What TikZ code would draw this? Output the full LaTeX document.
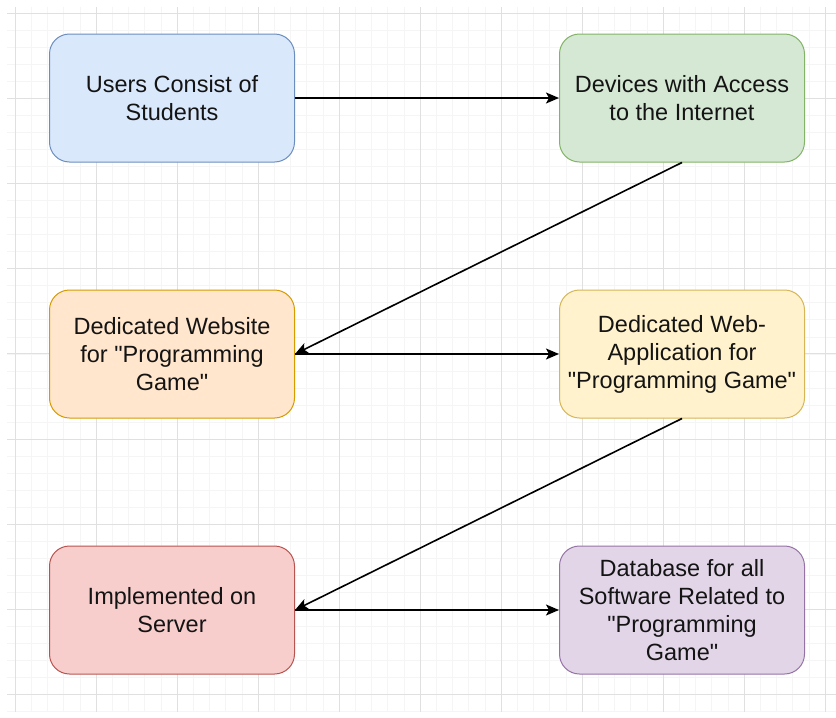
\documentclass[tikz,border=0pt]{standalone}
\usepackage{fontspec}
\newfontfamily\arialfont{Liberation Sans}
\usetikzlibrary{arrows.meta}
\definecolor{bfill}{HTML}{DAE8FC}\definecolor{bdraw}{HTML}{6C8EBF}
\definecolor{gfill}{HTML}{D5E8D4}\definecolor{gdraw}{HTML}{82B366}
\definecolor{ofill}{HTML}{FFE6CC}\definecolor{odraw}{HTML}{D79B00}
\definecolor{yfill}{HTML}{FFF2CC}\definecolor{ydraw}{HTML}{D6B656}
\definecolor{rfill}{HTML}{F8CECC}\definecolor{rdraw}{HTML}{B85450}
\definecolor{pfill}{HTML}{E1D5E7}\definecolor{pdraw}{HTML}{9673A6}
\definecolor{txt}{HTML}{141414}
\begin{document}
\begin{tikzpicture}[x=1pt,y=-1pt,
  box/.style={draw, line width=1pt, rounded corners=20pt, minimum width=245pt, minimum height=128pt,
    align=center, text=txt, font=\arialfont\fontsize{23.5}{28}\selectfont, inner sep=2pt},
  conn/.style={line width=1.6pt, -{Stealth[length=13pt,width=11pt,inset=3pt]}},
  minorgrid/.style={draw=black!4, line width=0.5pt},
  majorgrid/.style={draw=black!12, line width=0.8pt}]
\useasboundingbox (0,0) rectangle (836,718);
\fill[white] (0,0) rectangle (836,718);
% grid
\foreach \i in {0,...,50} {
  \draw[minorgrid] ({15+16.2*\i},7) -- ({15+16.2*\i},712);
}
\foreach \j in {0,...,42} {
  \draw[minorgrid] (7,{13+17.04*\j}) -- (836,{13+17.04*\j});
}
\foreach \i in {0,...,10} {
  \draw[majorgrid] ({15+81*\i},7) -- ({15+81*\i},712);
}
\foreach \j in {0,...,8} {
  \draw[majorgrid] (7,{13+85.2*\j}) -- (836,{13+85.2*\j});
}
% nodes
\node[box, fill=bfill, draw=bdraw] (users) at (172,98) {Users Consist of\\Students};
\node[box, fill=gfill, draw=gdraw] (devices) at (682,98) {Devices with Access\\to the Internet};
\node[box, fill=ofill, draw=odraw] (website) at (172,354) {Dedicated Website\\for "Programming\\Game"};
\node[box, fill=yfill, draw=ydraw] (webapp) at (682,354) {Dedicated Web-\\Application for\\"Programming Game"};
\node[box, fill=rfill, draw=rdraw] (server) at (172,610) {Implemented on\\Server};
\node[box, fill=pfill, draw=pdraw] (database) at (682,610) {Database for all\\Software Related to\\"Programming\\Game"};
% connectors
\draw[conn] (users.east) -- (devices.west);
\draw[conn] (devices.south) -- (website.east);
\draw[conn] (website.east) -- (webapp.west);
\draw[conn] (webapp.south) -- (server.east);
\draw[conn] (server.east) -- (database.west);
\end{tikzpicture}
\end{document}
